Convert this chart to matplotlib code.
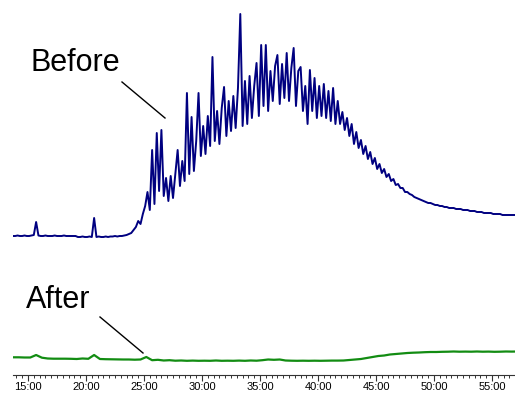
import numpy as np
import matplotlib
matplotlib.use("Agg")
import matplotlib.pyplot as plt
from matplotlib.ticker import MultipleLocator, FuncFormatter

# time grid (minutes) and detector traces
t_start = 13.7
before_step = 0.2
after_step = 0.5

before = [0, 0, 0.5, 0, 0, 0.5, 0, 0, 0.5, 1, 14, 0.5, 0, 0, 0.5, 0, 0, 0, 0.5, 0,
          0, 0, 0.5, 0, 0, 0, 0, 0, -1, -1, -0.5, -1, -1, -0.5, -1, 18, -1, -0.5, -1, -1,
          -0.5, -1, -0.5, -0.5, 0, -0.5, 0, 0, 0.5, 1, 2, 3, 6, 9, 15, 12, 22, 30, 44, 26,
          86, 32, 103, 45, 106, 40, 58, 35, 60, 38, 62, 86, 50, 75, 55, 143, 62, 119, 65, 95,
          143, 80, 110, 82, 120, 90, 179, 95, 125, 92, 128, 149, 100, 135, 105, 140, 108, 148, 222, 110,
          155, 112, 160, 118, 150, 173, 120, 191, 130, 191, 125, 165, 135, 170, 181, 132, 172, 138, 183, 135,
          168, 188, 130, 165, 169, 125, 150, 112, 166, 125, 158, 118, 150, 120, 152, 118, 145, 115, 148, 112,
          135, 112, 124, 106, 118, 100, 112, 92, 104, 88, 96, 82, 90, 77, 84, 72, 78, 67, 72, 63,
          67, 59, 62, 55, 57, 51, 52, 48, 48, 44, 44, 42, 41, 39, 38, 37, 36, 35, 34, 33,
          33, 32, 31, 31, 30, 30, 29, 29, 28, 28, 28, 27, 27, 27, 26, 26, 26, 25, 25, 25,
          24, 24, 24, 23, 23, 23, 23, 22, 22, 22, 22, 21, 21, 21, 21, 21, 21]

after = [3.7, 3.7, 3.5, 3.5, 6, 3.3, 2.5, 2.3, 2.3, 2.3, 2.2, 2.0, 2.5, 2.2, 6, 2.0, 1.8, 1.7, 1.6, 1.5,
         1.5, 1.3, 1.5, 4, 0.8, 1.2, 0.5, 0.8, 0.3, 0.5, 0.2, 0.4, 0.2, 0.3, 0.2, 0.5, 0.2, 0.3, 0.2, 0.4,
         0.2, 0.5, 0.3, 0.8, 1.5, 1.2, 1.5, 0.5, 0.3, 0.2, 0.3, 0.2, 0.3, 0.2, 0.3, 0.4, 0.4, 0.5, 1, 1.5,
         2, 3, 4, 5, 5.5, 6.5, 7, 7.5, 8, 8.3, 8.5, 8.8, 9, 9, 9.2, 9.3, 9.5, 9.3, 9.4, 9.3,
         9.5, 9.3, 9.4, 9.2, 9.3, 9.5, 9.4, 9.5]

before_offset = 139
after_offset = 14

t_before = t_start + before_step * np.arange(len(before))
t_after = t_start + after_step * np.arange(len(after))

W, H = 515, 394
fig = plt.figure(figsize=(W / 100, H / 100), dpi=100)
ax = fig.add_axes([13 / W, 19 / H, 502 / W, 375 / H])

ax.plot(t_before, np.array(before) + before_offset, color="#000080", lw=1.4)
ax.plot(t_after, np.array(after) + after_offset, color="#128c12", lw=1.6)

ax.set_xlim(13.707, 56.98)
ax.set_ylim(0, 375)

for s in ["top", "left", "right"]:
    ax.spines[s].set_visible(False)
ax.spines["bottom"].set_color("#333333")
ax.spines["bottom"].set_linewidth(0.8)
ax.set_yticks([])
ax.xaxis.set_major_locator(MultipleLocator(5))
ax.xaxis.set_minor_locator(MultipleLocator(0.5))
ax.xaxis.set_major_formatter(FuncFormatter(lambda v, p: "%d:00" % v))
ax.tick_params(axis="x", which="major", length=4, width=0.8, pad=1, labelsize=8, color="#333333")
ax.tick_params(axis="x", which="minor", length=2, width=0.7, color="#333333")
for lab in ax.get_xticklabels():
    lab.set_family(["Liberation Sans", "DejaVu Sans"])

lbl_font = ["Liberation Sans", "DejaVu Sans"]
fig.text(75 / W, 1 - 63 / H, "Before", fontsize=22, family=lbl_font, ha="center", va="center")
fig.text(58 / W, 1 - 300 / H, "After", fontsize=22, family=lbl_font, ha="center", va="center")
fig.add_artist(plt.Line2D([122 / W, 165 / W], [1 - 82 / H, 1 - 118 / H], color="black", lw=1))
fig.add_artist(plt.Line2D([100 / W, 143 / W], [1 - 317 / H, 1 - 353 / H], color="black", lw=1))

fig.savefig("out.png", dpi=100)
